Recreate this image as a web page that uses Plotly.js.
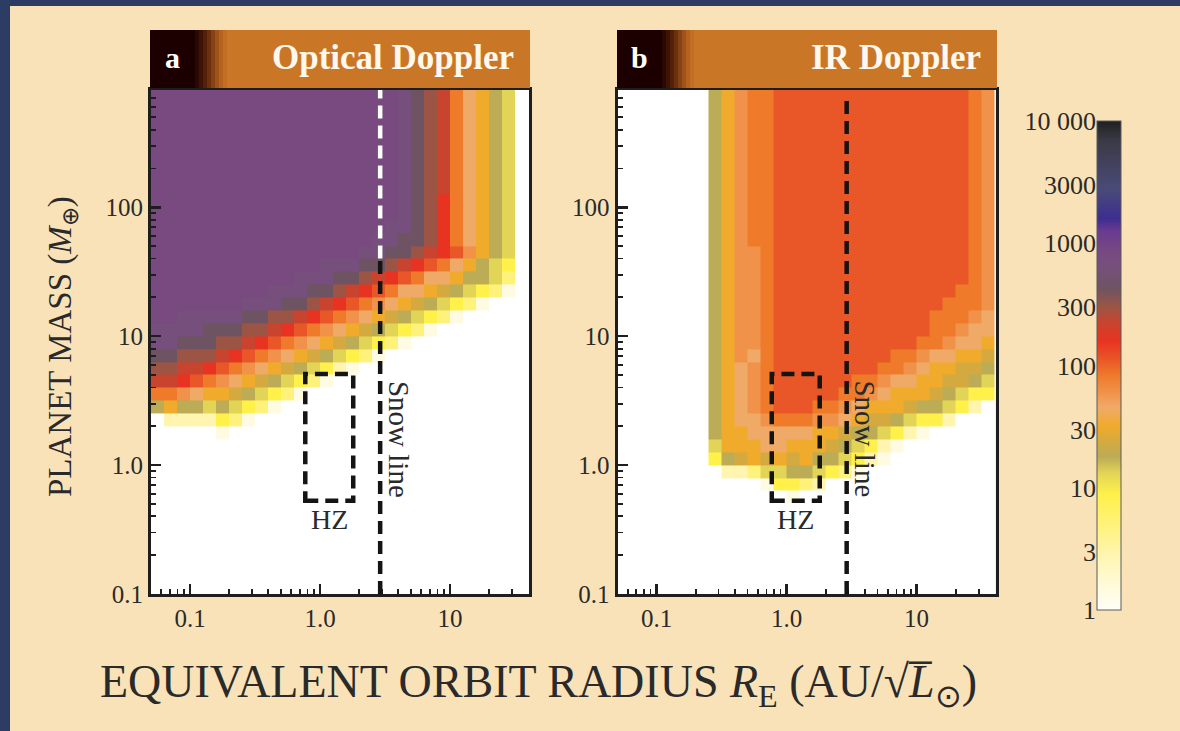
<!DOCTYPE html>
<html><head><meta charset="utf-8">
<script src="https://cdn.plot.ly/plotly-3.0.1.min.js"></script>
<style>html,body{margin:0;padding:0;background:#2d3c62;overflow:hidden}#chart{width:1180px;height:731px}</style>
</head><body><div id="chart"></div>
<script>
// ---------------- data ----------------
const radiusTicks = [0.1, 1, 10];
const radiusTickText = ['0.1', '1.0', '10'];
const massTicks = [0.1, 1, 10, 100];
const massTickText = ['0.1', '1.0', '10', '100'];
const countTicks = [1, 3, 10, 30, 100, 300, 1000, 3000, 10000];
const countTickText = ['1', '3', '10', '30', '100', '300', '1000', '3000', '10 000'];
const radiusMinor = [0.06,0.07,0.08,0.09,0.2,0.3,0.4,0.5,0.6,0.7,0.8,0.9,2,3,4,5,6,7,8,9,20,30];
const massMinor = [0.2,0.3,0.4,0.5,0.6,0.7,0.8,0.9,2,3,4,5,6,7,8,9,20,30,40,50,60,70,80,90,200,300,400,500,600,700,800];

// grid: 0.1-dex cells; radius cells start at 0.05 AU, mass cells start at 0.1 Earth masses
const radiusStartLog = -1.3, massStartLog = -1.0, cellLog = 0.1;

// log10(number of detectable planets) for each colour level
const levelValue = {'0':0.15,'1':0.45,'2':0.7,'3':0.95,'4':1.12,'5':1.25,'6':1.38,'7':1.5,'8':1.66,
  '9':1.78,'a':1.92,'b':2.05,'c':2.2,'d':2.35,'e':2.48,'f':2.63,'g':2.8,'h':2.92};

// rows listed from the top (highest mass) to the bottom; '.' = no detections
const opticalRows = [
'hhhhhhhhhhhhhhhhhhhgfeda8754.',
'hhhhhhhhhhhhhhhhhhhgfeda8754.',
'hhhhhhhhhhhhhhhhhhhgfeda8754.',
'hhhhhhhhhhhhhhhhhhhgfeda8754.',
'hhhhhhhhhhhhhhhhhhhgfeda8754.',
'hhhhhhhhhhhhhhhhhhhgfeda8754.',
'hhhhhhhhhhhhhhhhhhhgfeda8754.',
'hhhhhhhhhhhhhhhhhhhgfeda8754.',
'hhhhhhhhhhhhhhhhhhhgfeda8754.',
'hhhhhhhhhhhhhhhhhhhgfeca8754.',
'hhhhhhhhhhhhhhhhhhhgfeca8754.',
'hhhhhhhhhhhhhhhhhhggfeca8754.',
'hhhhhhhhhhhhhhhhhggffeca8754.',
'hhhhhhhhhhhhhhhhggffedcb9754.',
'hhhhhhhhhhhhhgggffedcba87543.',
'hhhhhhhhhhhgggffedcba8875542.',
'hhhhhhhhhgggffedcba887654320.',
'hhhhhhhgggffedcba987654320...',
'hhgggggffeedcba987654320.....',
'ggggfffeedcba987654320.......',
'ggfffeedcba987654320.........',
'ffeeedcba987654320...........',
'eeddcba987654310.............',
'ddcba987654320...............',
'aa9877654320.................',
'5755454320...................',
'.1111320.....................',
'.....0.......................',
'.............................',
'.............................',
'.............................',
'.............................',
'.............................',
'.............................',
'.............................',
'.............................',
'.............................',
'.............................',
'.............................',
'.............................'
];

const irRows = [
'.......579aabbbbbbbbbbbbbbba9',
'.......579aabbbbbbbbbbbbbbba9',
'.......579aabbbbbbbbbbbbbbba9',
'.......579aabbbbbbbbbbbbbbba9',
'.......579aabbbbbbbbbbbbbbba9',
'.......579aabbbbbbbbbbbbbbba9',
'.......579aabbbbbbbbbbbbbbba9',
'.......579aabbbbbbbbbbbbbbba9',
'.......579aabbbbbbbbbbbbbbba9',
'.......579aabbbbbbbbbbbbbbba9',
'.......579aabbbbbbbbbbbbbbba9',
'.......579aabbbbbbbbbbbbbbba9',
'.......579aabbbbbbbbbbbbbbba9',
'.......5799abbbbbbbbbbbbbbba9',
'.......5799abbbbbbbbbbbbbbba9',
'.......5799abbbbbbbbbbbbbbba9',
'.......5799abbbbbbbbbbbbbbaa9',
'.......5799abbbbbbbbbbbbbaaa9',
'.......5799abbbbbbbbbbbbaaa98',
'.......5799abbbbbbbbbbbbaa988',
'.......5799abbbbbbbbbbbaa9887',
'.......5798abbbbbbbbbaa988776',
'.......5789abbbbbbbbaa9877665',
'.......5789abbbbbbaa988776654',
'.......5789abbbbbaa9877765433',
'.......5789abbbaa98777655431.',
'.......57889aaa99876654331...',
'.......57788888776554310.....',
'.......477788777654310.......',
'.......35676767554310........',
'........11244554320..........',
'...........03321.............',
'.............0...............',
'.............................',
'.............................',
'.............................',
'.............................',
'.............................',
'.............................',
'.............................'
];

const snowLine = 2.9;          // AU
const snowLineColourSplit = 40; // Earth masses: white dashes above, black below (panel a)
const hzRadius = [0.77, 1.8];
const hzMass = [0.53, 5.1];

// ---------------- build ----------------
const W = 1180, H = 731;
const px = v => v / W, py = v => 1 - v / H;

function edges(startLog, n) { const e = []; for (let k = 0; k <= n; k++) e.push(Math.pow(10, startLog + cellLog * k)); return e; }
function toZ(rows) { return rows.slice().reverse().map(r => r.split('').map(c => c === '.' ? null : levelValue[c])); }

const nCols = opticalRows[0].length, nRows = opticalRows.length;
const xEdges = edges(radiusStartLog, nCols);
const yEdges = edges(massStartLog, nRows);

const colorscale = [
 [0,'#fffff6'],[0.0375,'#fffbe2'],[0.1125,'#fff5b0'],[0.175,'#fff27a'],[0.2375,'#fff04a'],
 [0.28,'#e2d456'],[0.3125,'#bcac56'],[0.345,'#d4aa40'],[0.375,'#f0aa2c'],[0.415,'#f0aa68'],
 [0.445,'#f0924a'],[0.48,'#ee7a2a'],[0.5125,'#e95627'],[0.55,'#e83322'],[0.5875,'#c8442f'],
 [0.62,'#9c5544'],[0.6575,'#6e5462'],[0.7,'#764f7c'],[0.73,'#784a80'],[0.775,'#6a3a90'],
 [0.8,'#3c2e90'],[0.86,'#4a4a78'],[0.96,'#3a3a46'],[1,'#202020']];

const serif = 'Liberation Serif, Times New Roman, serif';
const ink = '#2a2a2a';

const traces = [
 {type:'heatmap', x:xEdges, y:yEdges, z:toZ(opticalRows), xaxis:'x', yaxis:'y',
  colorscale, zmin:0, zmax:4, hoverinfo:'skip', showscale:true,
  colorbar:{x:px(1097), xanchor:'left', y:py(121), yanchor:'top', len:489, lenmode:'pixels',
    thickness:24, thicknessmode:'pixels', xpad:0, ypad:0, outlinewidth:1, outlinecolor:'#5a5a5a',
    showticklabels:false, ticks:''}},
 {type:'heatmap', x:xEdges, y:yEdges, z:toZ(irRows), xaxis:'x2', yaxis:'y2',
  colorscale, zmin:0, zmax:4, hoverinfo:'skip', showscale:false},
 {type:'scatter', x:countTicks.map(() => 0.5), y:countTicks, xaxis:'x3', yaxis:'y3',
  mode:'markers', marker:{opacity:0}, hoverinfo:'skip', showlegend:false}
];

function xAxis(domain, anchor) {
 return {domain, anchor, type:'log', range:[-1.3, 1.607], tickmode:'array', tickvals:radiusTicks, ticktext:radiusTickText,
  ticks:'inside', ticklen:10, tickwidth:2.5, tickcolor:'#1e1e1e', showgrid:false, zeroline:false,
  showline:true, mirror:true, linecolor:'#1e1e1e', linewidth:3,
  tickfont:{family:serif, size:25, color:ink},
  minor:{tickmode:'array', tickvals:radiusMinor, ticks:'inside', ticklen:5, tickwidth:1.8, tickcolor:'#1e1e1e', showgrid:false}};
}
function yAxis(domain, anchor) {
 return {domain, anchor, type:'log', range:[-1, 2.91], tickmode:'array', tickvals:massTicks, ticktext:massTickText,
  ticks:'inside', ticklen:10, tickwidth:2.5, tickcolor:'#1e1e1e', showgrid:false, zeroline:false,
  showline:true, mirror:true, linecolor:'#1e1e1e', linewidth:3,
  tickfont:{family:serif, size:25, color:ink},
  minor:{tickmode:'array', tickvals:massMinor, ticks:'inside', ticklen:5, tickwidth:1.8, tickcolor:'#1e1e1e', showgrid:false}};
}

const yDom = [py(594), py(90)];
const shapes = [
 {type:'rect', xref:'paper', yref:'paper', x0:0, x1:px(10), y0:0, y1:1, fillcolor:'#2d3c62', line:{width:0}, layer:'below'},
 {type:'rect', xref:'paper', yref:'paper', x0:0, x1:1, y0:py(6), y1:1, fillcolor:'#2d3c62', line:{width:0}, layer:'below'}
];
const annotations = [];
const gradSteps = ['#2a0803','#3d1305','#532009','#6c300e','#864114','#9f531a','#b4631f','#c26f24'];
function header(x0, x1, letter, title) {
 const y0 = py(88), y1 = py(30);
 shapes.push({type:'rect', xref:'paper', yref:'paper', x0:px(x0), x1:px(x0+46), y0, y1, fillcolor:'#1c0000', line:{width:0}});
 gradSteps.forEach((c, k) => shapes.push({type:'rect', xref:'paper', yref:'paper', x0:px(x0+45+4*k), x1:px(x0+50+4*k), y0, y1, fillcolor:c, line:{width:0}}));
 shapes.push({type:'rect', xref:'paper', yref:'paper', x0:px(x0+77), x1:px(x1), y0, y1, fillcolor:'#c97727', line:{width:0}});
 annotations.push({xref:'paper', yref:'paper', x:px(x0+22), y:py(58), text:letter, showarrow:false, xanchor:'center', yanchor:'middle',
  font:{family:serif, size:30, color:'#ffffff', weight:'bold'}});
 annotations.push({xref:'paper', yref:'paper', x:px(x1-14), y:py(57), text:title, showarrow:false, xanchor:'right', yanchor:'middle',
  font:{family:serif, size:35, color:'#fff8ee', weight:'bold'}});
}
header(150, 530, 'a', 'Optical Doppler');
header(617, 997, 'b', 'IR Doppler');

const dash = '13px,7px';
function overlays(xr, yr, topMass, split) {
 if (split) {
  shapes.push({type:'line', xref:xr, yref:yr, x0:snowLine, x1:snowLine, y0:snowLineColourSplit, y1:topMass, line:{color:'#ffffff', width:4.5, dash}});
  shapes.push({type:'line', xref:xr, yref:yr, x0:snowLine, x1:snowLine, y0:0.1, y1:snowLineColourSplit, line:{color:'#141414', width:4.5, dash}});
 } else {
  shapes.push({type:'line', xref:xr, yref:yr, x0:snowLine, x1:snowLine, y0:0.1, y1:topMass, line:{color:'#141414', width:4.5, dash}});
 }
 shapes.push({type:'rect', xref:xr, yref:yr, x0:hzRadius[0], x1:hzRadius[1], y0:hzMass[0], y1:hzMass[1], line:{color:'#141414', width:4.5, dash}});
 annotations.push({xref:xr, yref:yr, x:Math.log10(Math.sqrt(hzRadius[0]*hzRadius[1])), y:Math.log10(hzMass[0]) - 0.15,
  text:'HZ', showarrow:false, xanchor:'center', yanchor:'middle', font:{family:serif, size:28, color:ink}});
 annotations.push({xref:xr, yref:yr, x:Math.log10(snowLine) + 0.14, y:0.2, text:'Snow line', textangle:90,
  showarrow:false, xanchor:'center', yanchor:'middle', font:{family:serif, size:29, color:ink}});
}
overlays('x', 'y', 812, true);
overlays('x2', 'y2', 680, false);

annotations.push({xref:'paper', yref:'paper', x:px(538), y:py(685), showarrow:false, xanchor:'center', yanchor:'middle',
 text:'EQUIVALENT ORBIT RADIUS <i>R</i><sub>E</sub> (AU/√<i>L̅</i><sub>⊙</sub>)',
 font:{family:serif, size:46, color:ink}});
annotations.push({xref:'paper', yref:'paper', x:px(62), y:py(347), showarrow:false, textangle:-90, xanchor:'center', yanchor:'middle',
 text:'PLANET MASS (<i>M</i><sub>⊕</sub>)', font:{family:serif, size:33, color:ink}});

const layout = {
 width:W, height:H, margin:{l:0, r:0, t:0, b:0}, paper_bgcolor:'#f9e2b8', plot_bgcolor:'#ffffff',
 showlegend:false, hovermode:false,
 xaxis:xAxis([px(151), px(529)], 'y'), yaxis:yAxis(yDom, 'x'),
 xaxis2:xAxis([px(617.5), px(995.5)], 'y2'), yaxis2:yAxis(yDom, 'x2'),
 xaxis3:{domain:[px(1097), px(1121)], anchor:'y3', range:[0, 1], visible:false, fixedrange:true},
 yaxis3:{domain:[py(610), py(121)], anchor:'x3', type:'log', range:[0, 4], tickmode:'array', tickvals:countTicks,
  ticktext:countTickText, ticks:'', showline:false, showgrid:false, zeroline:false, side:'left',
  tickfont:{family:serif, size:26, color:ink}, fixedrange:true},
 shapes, annotations
};
Plotly.newPlot('chart', traces, layout, {displayModeBar:false, staticPlot:true});
</script></body></html>
